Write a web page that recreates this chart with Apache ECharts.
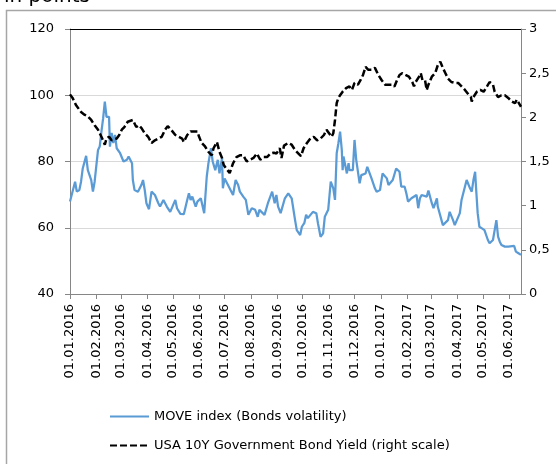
<!DOCTYPE html>
<html>
<head>
<meta charset="utf-8">
<title>MOVE index vs USA 10Y yield</title>
<script src="https://cdn.jsdelivr.net/npm/echarts@6/dist/echarts.min.js"></script>
<style>
    html, body { margin: 0; padding: 0; background: #fff; }
    #main { width: 556px; height: 464px; }
</style>
</head>
<body>
<div id="main"></div>
<script>
// axis range (daily categories, ticks on the 1st of every month)
var firstDay = '2016-01-01';
var lastDay = '2017-06-15';

var leftMin = 40, leftMax = 120, leftStep = 20;
var rightMin = 0, rightMax = 3, rightStep = 0.5;

var moveName = 'MOVE index (Bonds volatility)';
var yieldName = 'USA 10Y Government Bond Yield (right scale)';

// MOVE index
var moveData = [
    ['2016-01-01', 67.9], ['2016-01-07', 73.9], ['2016-01-09', 70.9], ['2016-01-12', 71.4],
    ['2016-01-14', 73.9], ['2016-01-16', 77.9], ['2016-01-18', 77.4], ['2016-01-20', 81.7],
    ['2016-01-22', 77.4], ['2016-01-26', 74.4], ['2016-01-28', 70.9], ['2016-01-30', 73.9],
    ['2016-02-03', 83.5], ['2016-02-05', 84.5], ['2016-02-07', 89.0], ['2016-02-09', 93.0],
    ['2016-02-11', 98.1], ['2016-02-13', 93.5], ['2016-02-16', 93.5], ['2016-02-17', 84.5],
    ['2016-02-19', 88.6], ['2016-02-21', 85.6], ['2016-02-23', 88.0], ['2016-02-25', 84.0],
    ['2016-02-27', 84.5], ['2016-02-29', 82.5], ['2016-03-04', 80.0], ['2016-03-08', 80.5],
    ['2016-03-10', 81.5], ['2016-03-14', 79.5], ['2016-03-15', 74.4], ['2016-03-17', 71.4],
    ['2016-03-21', 70.9], ['2016-03-25', 72.9], ['2016-03-27', 74.4], ['2016-03-29', 71.4],
    ['2016-03-31', 67.4], ['2016-04-03', 65.6], ['2016-04-06', 70.9], ['2016-04-10', 69.9],
    ['2016-04-14', 67.4], ['2016-04-16', 66.4], ['2016-04-20', 68.4], ['2016-04-24', 66.4],
    ['2016-04-28', 64.8], ['2016-05-04', 68.4], ['2016-05-06', 65.9], ['2016-05-10', 64.2],
    ['2016-05-14', 64.1], ['2016-05-18', 68.4], ['2016-05-20', 70.4], ['2016-05-22', 68.4],
    ['2016-05-24', 69.4], ['2016-05-28', 66.4], ['2016-05-30', 67.9], ['2016-06-01', 67.4],
    ['2016-06-03', 68.9], ['2016-06-07', 64.4], ['2016-06-10', 75.4], ['2016-06-12', 79.5],
    ['2016-06-15', 84.0], ['2016-06-17', 80.0], ['2016-06-20', 77.4], ['2016-06-23', 80.5],
    ['2016-06-25', 76.4], ['2016-06-28', 81.0], ['2016-06-29', 71.9], ['2016-07-01', 74.9],
    ['2016-07-05', 72.9], ['2016-07-09', 70.9], ['2016-07-11', 69.9], ['2016-07-14', 74.4],
    ['2016-07-17', 72.9], ['2016-07-19', 70.9], ['2016-07-23', 69.4], ['2016-07-26', 68.4],
    ['2016-07-29', 63.9], ['2016-08-02', 65.9], ['2016-08-06', 65.4], ['2016-08-09', 63.3],
    ['2016-08-11', 65.4], ['2016-08-17', 63.9], ['2016-08-21', 67.4], ['2016-08-26', 70.9],
    ['2016-08-29', 67.4], ['2016-08-31', 69.9], ['2016-09-02', 66.4], ['2016-09-05', 64.4],
    ['2016-09-10', 68.9], ['2016-09-14', 70.4], ['2016-09-18', 68.9], ['2016-09-20', 68.9],
    ['2016-09-22', 62.3], ['2016-09-24', 59.3], ['2016-09-28', 57.8], ['2016-09-30', 60.3],
    ['2016-10-03', 61.5], ['2016-10-05', 63.9], ['2016-10-07', 62.9], ['2016-10-13', 64.8],
    ['2016-10-17', 64.4], ['2016-10-19', 61.3], ['2016-10-22', 57.3], ['2016-10-25', 58.3],
    ['2016-10-27', 63.3], ['2016-10-31', 65.4], ['2016-11-03', 73.9], ['2016-11-06', 71.9],
    ['2016-11-08', 68.4], ['2016-11-10', 82.5], ['2016-11-12', 85.5], ['2016-11-14', 89.0],
    ['2016-11-16', 83.5], ['2016-11-17', 77.4], ['2016-11-18', 81.5], ['2016-11-22', 76.4],
    ['2016-11-24', 79.5], ['2016-11-25', 77.4], ['2016-11-29', 77.4], ['2016-12-01', 86.5],
    ['2016-12-03', 80.5], ['2016-12-07', 73.4], ['2016-12-09', 75.9], ['2016-12-14', 76.4],
    ['2016-12-16', 78.4], ['2016-12-21', 74.9], ['2016-12-25', 71.9], ['2016-12-27', 70.9],
    ['2016-12-31', 71.4], ['2017-01-03', 76.4], ['2017-01-08', 74.9], ['2017-01-10', 72.9],
    ['2017-01-15', 74.4], ['2017-01-19', 77.9], ['2017-01-23', 76.9], ['2017-01-25', 72.4],
    ['2017-01-29', 72.4], ['2017-01-31', 70.4], ['2017-02-02', 67.9], ['2017-02-06', 68.9],
    ['2017-02-08', 69.4], ['2017-02-12', 69.9], ['2017-02-14', 65.9], ['2017-02-16', 68.9],
    ['2017-02-18', 69.9], ['2017-02-24', 69.4], ['2017-02-26', 71.2], ['2017-03-02', 67.4],
    ['2017-03-04', 65.9], ['2017-03-08', 68.9], ['2017-03-09', 66.4], ['2017-03-15', 60.8],
    ['2017-03-17', 60.3], ['2017-03-21', 62.3], ['2017-03-23', 64.8], ['2017-03-27', 62.3],
    ['2017-03-29', 60.8], ['2017-04-04', 64.4], ['2017-04-06', 68.4], ['2017-04-08', 68.9],
    ['2017-04-12', 74.4], ['2017-04-16', 71.9], ['2017-04-18', 70.9], ['2017-04-20', 74.4],
    ['2017-04-22', 76.9], ['2017-04-23', 72.4], ['2017-04-25', 64.4], ['2017-04-27', 60.3],
    ['2017-04-30', 59.8], ['2017-05-03', 59.3], ['2017-05-05', 59.8], ['2017-05-07', 56.3],
    ['2017-05-09', 55.3], ['2017-05-11', 54.8], ['2017-05-13', 56.3], ['2017-05-17', 62.3],
    ['2017-05-19', 57.3], ['2017-05-21', 55.8], ['2017-05-23', 54.8], ['2017-05-27', 54.3],
    ['2017-05-31', 54.3], ['2017-06-02', 53.8], ['2017-06-07', 54.5], ['2017-06-09', 52.8],
    ['2017-06-12', 52.3], ['2017-06-15', 51.8]
];

// US 10Y yield in %, right scale
var yieldData = [
    ['2016-01-01', 2.26], ['2016-01-04', 2.22], ['2016-01-08', 2.14], ['2016-01-14', 2.06],
    ['2016-01-18', 2.03], ['2016-01-22', 2.01], ['2016-01-26', 1.97], ['2016-01-30', 1.91],
    ['2016-02-03', 1.86], ['2016-02-07', 1.78], ['2016-02-11', 1.69], ['2016-02-13', 1.76],
    ['2016-02-16', 1.78], ['2016-02-19', 1.74], ['2016-02-25', 1.76], ['2016-02-28', 1.80],
    ['2016-03-02', 1.86], ['2016-03-05', 1.89], ['2016-03-09', 1.95], ['2016-03-11', 1.97],
    ['2016-03-15', 1.97], ['2016-03-19', 1.89], ['2016-03-22', 1.91], ['2016-03-25', 1.88],
    ['2016-03-29', 1.82], ['2016-04-02', 1.78], ['2016-04-06', 1.71], ['2016-04-10', 1.74],
    ['2016-04-14', 1.76], ['2016-04-18', 1.78], ['2016-04-22', 1.86], ['2016-04-25', 1.90],
    ['2016-04-29', 1.86], ['2016-05-04', 1.80], ['2016-05-08', 1.78], ['2016-05-12', 1.76],
    ['2016-05-14', 1.72], ['2016-05-18', 1.80], ['2016-05-22', 1.84], ['2016-05-26', 1.84],
    ['2016-05-30', 1.84], ['2016-06-01', 1.78], ['2016-06-04', 1.71], ['2016-06-08', 1.67],
    ['2016-06-12', 1.61], ['2016-06-16', 1.57], ['2016-06-18', 1.65], ['2016-06-22', 1.72],
    ['2016-06-25', 1.61], ['2016-06-28', 1.54], ['2016-06-30', 1.46], ['2016-07-03', 1.42],
    ['2016-07-07', 1.37], ['2016-07-11', 1.48], ['2016-07-15', 1.55], ['2016-07-19', 1.57],
    ['2016-07-23', 1.57], ['2016-07-27', 1.50], ['2016-07-31', 1.52], ['2016-08-04', 1.54],
    ['2016-08-08', 1.59], ['2016-08-12', 1.52], ['2016-08-16', 1.55], ['2016-08-20', 1.55],
    ['2016-08-24', 1.59], ['2016-08-28', 1.60], ['2016-08-31', 1.59], ['2016-09-04', 1.65],
    ['2016-09-06', 1.54], ['2016-09-09', 1.68], ['2016-09-14', 1.71], ['2016-09-18', 1.69],
    ['2016-09-22', 1.63], ['2016-09-26', 1.59], ['2016-09-29', 1.56], ['2016-10-02', 1.65],
    ['2016-10-06', 1.71], ['2016-10-10', 1.76], ['2016-10-14', 1.78], ['2016-10-18', 1.74],
    ['2016-10-22', 1.76], ['2016-10-26', 1.80], ['2016-10-29', 1.86], ['2016-11-01', 1.82],
    ['2016-11-04', 1.78], ['2016-11-06', 1.82], ['2016-11-08', 1.97], ['2016-11-10', 2.16],
    ['2016-11-12', 2.22], ['2016-11-14', 2.25], ['2016-11-17', 2.29], ['2016-11-21', 2.33],
    ['2016-11-25', 2.35], ['2016-11-28', 2.31], ['2016-12-01', 2.39], ['2016-12-05', 2.37],
    ['2016-12-08', 2.42], ['2016-12-11', 2.48], ['2016-12-14', 2.57], ['2016-12-17', 2.54],
    ['2016-12-21', 2.54], ['2016-12-25', 2.56], ['2016-12-29', 2.48], ['2017-01-02', 2.42],
    ['2017-01-06', 2.37], ['2017-01-10', 2.37], ['2017-01-14', 2.37], ['2017-01-17', 2.35],
    ['2017-01-20', 2.42], ['2017-01-23', 2.48], ['2017-01-26', 2.50], ['2017-01-30', 2.48],
    ['2017-02-03', 2.46], ['2017-02-07', 2.40], ['2017-02-09', 2.35], ['2017-02-11', 2.40],
    ['2017-02-15', 2.46], ['2017-02-17', 2.50], ['2017-02-19', 2.42], ['2017-02-22', 2.42],
    ['2017-02-24', 2.31], ['2017-02-26', 2.37], ['2017-03-02', 2.46], ['2017-03-06', 2.50],
    ['2017-03-09', 2.59], ['2017-03-12', 2.63], ['2017-03-15', 2.56], ['2017-03-18', 2.50],
    ['2017-03-21', 2.44], ['2017-03-25', 2.40], ['2017-03-29', 2.39], ['2017-04-02', 2.39],
    ['2017-04-06', 2.35], ['2017-04-10', 2.31], ['2017-04-14', 2.26], ['2017-04-17', 2.23],
    ['2017-04-18', 2.18], ['2017-04-20', 2.23], ['2017-04-24', 2.29], ['2017-04-28', 2.31],
    ['2017-05-02', 2.29], ['2017-05-06', 2.35], ['2017-05-09', 2.40], ['2017-05-13', 2.37],
    ['2017-05-15', 2.29], ['2017-05-19', 2.23], ['2017-05-23', 2.25], ['2017-05-27', 2.25],
    ['2017-05-31', 2.22], ['2017-06-04', 2.18], ['2017-06-08', 2.16], ['2017-06-10', 2.20],
    ['2017-06-12', 2.20], ['2017-06-15', 2.12]
];

function buildDays(from, to) {
    var out = [];
    var d = new Date(from + 'T00:00:00Z');
    var end = new Date(to + 'T00:00:00Z');
    while (d <= end) {
        out.push(d.toISOString().slice(0, 10));
        d.setUTCDate(d.getUTCDate() + 1);
    }
    return out;
}

var days = buildDays(firstDay, lastDay);
var dayIndex = {};
days.forEach(function (d, i) { dayIndex[d] = i; });

function toPoints(arr) {
    return arr.map(function (p) { return [dayIndex[p[0]], p[1]]; });
}

function isMonthStart(i, value) {
    return value.slice(8) === '01';
}

var font = 'DejaVu Sans';
var axisGrey = '#868686';

var chart = echarts.init(document.getElementById('main'));
chart.setOption({
    animation: false,
    backgroundColor: '#fff',
    textStyle: { fontFamily: font },
    grid: { left: 70, right: 35, top: 29, bottom: 170 },
    legend: {
        orient: 'vertical',
        left: 109,
        top: 410,
        padding: 0,
        itemWidth: 39,
        itemHeight: 14,
        itemGap: 16,
        itemStyle: { opacity: 0 }, // line only, no marker
        data: [moveName, yieldName],
        textStyle: { fontFamily: font, fontSize: 13, color: '#000' }
    },
    graphic: [{
        // outer chart frame
        type: 'rect',
        silent: true,
        shape: { x: 6.5, y: 10.5, width: 700, height: 600 },
        style: { fill: 'none', stroke: '#a6a6a6', lineWidth: 1.5 }
    }, {
        // title, cut off by the top edge
        type: 'text',
        silent: true,
        style: { x: 4, y: 7, text: 'in points', font: '20px "DejaVu Sans"', fill: '#000', verticalAlign: 'bottom' }
    }],
    xAxis: [{
        type: 'category',
        data: days,
        boundaryGap: false,
        axisLine: { lineStyle: { color: axisGrey, width: 1 } },
        axisTick: { interval: isMonthStart, length: 5, lineStyle: { color: axisGrey } },
        axisLabel: {
            interval: isMonthStart,
            rotate: 90,
            margin: 10,
            fontSize: 13,
            color: '#000',
            formatter: function (v) {
                return v.slice(8, 10) + '.' + v.slice(5, 7) + '.' + v.slice(0, 4);
            }
        },
        splitLine: { show: false }
    }, {
        // black top border of the plot area
        type: 'category',
        position: 'top',
        data: days,
        boundaryGap: false,
        axisLine: { lineStyle: { color: '#000', width: 1 } },
        axisTick: { show: false },
        axisLabel: { show: false },
        splitLine: { show: false }
    }],
    yAxis: [{
        type: 'value',
        min: leftMin,
        max: leftMax,
        interval: leftStep,
        axisLine: { show: true, lineStyle: { color: axisGrey } },
        axisTick: { show: true, length: 5, lineStyle: { color: axisGrey } },
        axisLabel: { margin: 16, fontSize: 13, color: '#000' },
        splitLine: { show: true, lineStyle: { color: '#d9d9d9', width: 1 } }
    }, {
        type: 'value',
        min: rightMin,
        max: rightMax,
        interval: rightStep,
        position: 'right',
        axisLine: { show: true, lineStyle: { color: axisGrey } },
        axisTick: { show: true, length: 5, lineStyle: { color: axisGrey } },
        axisLabel: {
            margin: 8,
            fontSize: 13,
            color: '#000',
            formatter: function (v) { return String(v).replace('.', ','); }
        },
        splitLine: { show: false }
    }],
    series: [{
        name: moveName,
        type: 'line',
        symbol: 'none',
        xAxisIndex: 0,
        yAxisIndex: 0,
        color: '#5b9bd5',
        lineStyle: { color: '#5b9bd5', width: 2.25 },
        data: toPoints(moveData)
    }, {
        name: yieldName,
        type: 'line',
        symbol: 'none',
        xAxisIndex: 0,
        yAxisIndex: 1,
        color: '#000',
        lineStyle: { color: '#000', width: 2.5, type: [7, 3] },
        data: toPoints(yieldData)
    }]
});
</script>
</body>
</html>
